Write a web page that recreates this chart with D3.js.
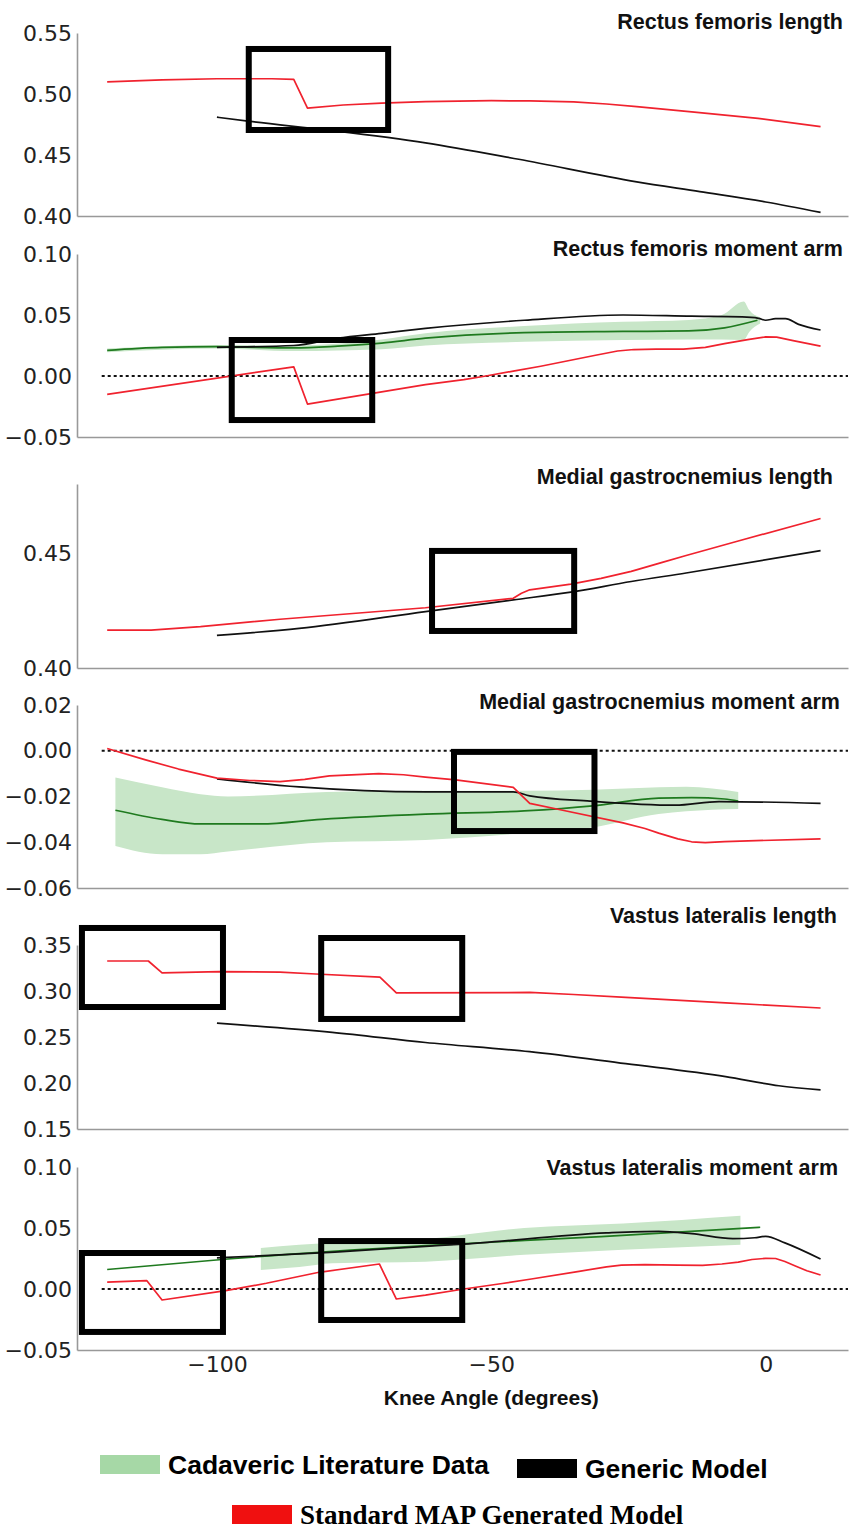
<!DOCTYPE html>
<html>
<head>
<meta charset="utf-8">
<script src="https://cdn.jsdelivr.net/npm/d3@7"></script>
<style>
  body { margin: 0; background: #fff; }
  .tick text { font-family: "DejaVu Sans", sans-serif; fill: #222; }
  .title { font-family: "Liberation Sans", Arial, sans-serif; font-weight: bold; fill: #111; }
</style>
</head>
<body>
<svg width="850" height="1529"></svg>
<script>
// knee angle ticks (degrees)
const kneeTicks = [-100, -50, 0];

// Rectus femoris length  [angle, value]
const rfLenMAP = [[-120,0.510],[-110,0.5115],[-100,0.5125],[-90,0.5125],[-86,0.512],[-83.5,0.4885],[-77,0.491],[-70,0.4925],[-62,0.4938],[-50,0.4945],[-43,0.4943],[-35,0.4935],[-29,0.4918],[-23.5,0.4896],[-13,0.4851],[-1.4,0.480],[10,0.4732]];
const rfLenGeneric = [[-100,0.481],[-94,0.4775],[-80,0.4705],[-62,0.460],[-45,0.4465],[-23.5,0.428],[-12,0.420],[0,0.4115],[10,0.403]];

// Rectus femoris moment arm
const rfArmMAP = [[-120,-0.015],[-86,0.0075],[-83.5,-0.023],[-62,-0.007],[-55,-0.003],[-51,0],[-46,0.004],[-41,0.008],[-36,0.0125],[-31,0.017],[-27,0.0205],[-24,0.0217],[-20,0.022],[-15,0.022],[-11,0.0235],[-7.5,0.0265],[-3,0.030],[0,0.032],[2,0.0318],[5,0.029],[10,0.0245]];
const rfArmGeneric = [[-100,0.0235],[-86,0.025],[-78,0.031],[-70,0.035],[-62,0.039],[-44,0.0457],[-26,0.050],[-13.5,0.049],[-4.3,0.0484],[-1.3,0.0473],[0,0.0457],[1.8,0.047],[3.6,0.047],[6,0.0423],[10,0.0377]];
const rfArmLit = [[-120,0.021],[-110,0.0235],[-100,0.024],[-86,0.023],[-78,0.0245],[-70,0.027],[-62,0.031],[-44,0.0355],[-26,0.0365],[-14,0.037],[-7.5,0.0395],[-1.5,0.0457]];
const rfArmLitBand = [[-120,0.0195,0.0225],[-100,0.0225,0.0255],[-86,0.0205,0.025],[-70,0.022,0.030],[-62,0.025,0.035],[-44,0.028,0.041],[-26,0.0295,0.0445],[-14,0.030,0.046],[-8,0.030,0.050],[-4,0.0295,0.061],[-3,0.036,0.054],[-1,0.043,0.048]];

// Medial gastrocnemius length
const mgLenMAP = [[-120,0.4165],[-112,0.4165],[-103,0.418],[-88.5,0.4212],[-62,0.4262],[-46,0.4303],[-44.5,0.4325],[-43,0.434],[-35.5,0.4365],[-30,0.439],[-24.5,0.442],[-19,0.4458],[-14.5,0.4489],[-5,0.4552],[10,0.465]];
const mgLenGeneric = [[-100,0.4142],[-85,0.4172],[-62,0.4245],[-46,0.4296],[-35.5,0.433],[-24.5,0.4376],[-14.5,0.4413],[10,0.451]];

// Medial gastrocnemius moment arm
const mgArmMAP = [[-120,0.001],[-113,-0.004],[-107,-0.008],[-100,-0.012],[-94,-0.013],[-88.5,-0.0135],[-84,-0.0125],[-79.5,-0.011],[-70.5,-0.010],[-66,-0.0105],[-62,-0.0115],[-56.5,-0.0127],[-46,-0.016],[-43,-0.023],[-37,-0.026],[-26,-0.0315],[-22,-0.034],[-19.5,-0.036],[-16,-0.0385],[-13.5,-0.0398],[-11,-0.0402],[-7.5,-0.0397],[10,-0.0385]];
const mgArmGeneric = [[-100,-0.0123],[-85,-0.0158],[-62,-0.018],[-46,-0.018],[-43,-0.0197],[-32,-0.022],[-16.5,-0.0238],[-8.5,-0.0222],[10,-0.023]];
const mgArmLit = [[-118.5,-0.026],[-110,-0.030],[-103,-0.032],[-92,-0.032],[-81,-0.030],[-62,-0.0277],[-44,-0.0263],[-31.5,-0.0241],[-19.5,-0.0207],[-13.5,-0.0205],[-7.5,-0.0211],[-5,-0.022]];
const mgArmLitBand = [[-118.5,-0.0416,-0.0117],[-110,-0.0452,-0.016],[-103,-0.0452,-0.019],[-98,-0.044,-0.020],[-80,-0.040,-0.018],[-62,-0.039,-0.0175],[-44,-0.036,-0.0175],[-31.5,-0.0335,-0.017],[-19.5,-0.0277,-0.016],[-14.5,-0.0265,-0.0157],[-5,-0.0255,-0.018]];

// Vastus lateralis length
const vlLenMAP = [[-120,0.3326],[-112.5,0.3326],[-110,0.3196],[-99.5,0.321],[-88.5,0.3205],[-82,0.3185],[-70.3,0.315],[-67.3,0.298],[-43,0.2984],[-35,0.2962],[-25.5,0.293],[-7.3,0.287],[10,0.2815]];
const vlLenGeneric = [[-100,0.265],[-79,0.255],[-62,0.244],[-43,0.234],[-25.5,0.221],[-7.3,0.207],[2.4,0.197],[10,0.1925]];

// Vastus lateralis moment arm
const vlArmMAP = [[-120,0.0057],[-112.8,0.0069],[-110,-0.009],[-98.4,-0.0014],[-91,0.0047],[-81.4,0.0137],[-70.4,0.0205],[-67.3,-0.0082],[-62,-0.005],[-55,0],[-48,0.0045],[-42.7,0.0082],[-34,0.0145],[-29,0.0182],[-26.3,0.0195],[-22,0.0199],[-16,0.0196],[-11.5,0.0193],[-8,0.0205],[-5,0.022],[-2.5,0.0242],[0,0.0251],[1.8,0.025],[3.5,0.0225],[5.3,0.0191],[7.5,0.015],[10,0.0115]];
const vlArmGeneric = [[-100,0.0255],[-78.5,0.0302],[-62,0.035],[-56,0.0365],[-29,0.046],[-19.5,0.0473],[-13.5,0.0454],[-6,0.0413],[-2,0.042],[0,0.0432],[3.5,0.0378],[10,0.0246]];
const vlArmLit = [[-120,0.016],[-98,0.0246],[-62,0.0355],[-30,0.043],[-1,0.0506]];
const vlArmLitBand = [[-92,0.0156,0.0336],[-85,0.018,0.0363],[-79,0.0211,0.0377],[-62,0.0224,0.041],[-44,0.028,0.050],[-26,0.0322,0.0536],[-4.6,0.0363,0.060]];

// highlight boxes [x0, x1, yLow, yHigh] in data units
const rfLenBoxes = [[-94.2,-68.8,0.4705,0.5369]];
const rfArmBoxes = [[-97.3,-71.7,-0.0361,0.0295]];
const mgLenBoxes = [[-60.8,-34.9,0.4161,0.4509]];
const mgArmBoxes = [[-56.8,-31.2,-0.0351,-0.0005]];
const vlLenBoxes = [[-124.6,-98.9,0.2826,0.3685],[-81,-55.3,0.2696,0.3576]];
const vlArmBoxes = [[-124.6,-98.9,-0.0352,0.0295],[-81,-55.3,-0.0254,0.0393]];

const fmt2 = d3.format(".2f");
const hyph = d => fmt2(d);                          // "-0.05"
const uminus = d => fmt2(d).replace("-", "\u2212"); // "−0.02"

const panels = [
  { title: "Rectus femoris length", domain: [0.40, 0.55], ticks: [0.40, 0.45, 0.50, 0.55], fmt: hyph,
    top: 33, bottom: 216, tx: 843, ty: 29, map: rfLenMAP, generic: rfLenGeneric, boxes: rfLenBoxes },
  { title: "Rectus femoris moment arm", domain: [-0.05, 0.10], ticks: [-0.05, 0, 0.05, 0.10], fmt: hyph,
    top: 254, bottom: 437, tx: 843, ty: 256, map: rfArmMAP, generic: rfArmGeneric, lit: rfArmLit, band: rfArmLitBand, zero: true, boxes: rfArmBoxes },
  { title: "Medial gastrocnemius length", domain: [0.40, 0.48], ticks: [0.40, 0.45], fmt: hyph,
    top: 484, bottom: 668, tx: 833, ty: 484, map: mgLenMAP, generic: mgLenGeneric, boxes: mgLenBoxes },
  { title: "Medial gastrocnemius moment arm", domain: [-0.06, 0.02], ticks: [-0.06, -0.04, -0.02, 0, 0.02], fmt: uminus,
    top: 705, bottom: 888, tx: 840, ty: 709, map: mgArmMAP, generic: mgArmGeneric, lit: mgArmLit, band: mgArmLitBand, zero: true, boxes: mgArmBoxes },
  { title: "Vastus lateralis length", domain: [0.15, 0.35], ticks: [0.15, 0.20, 0.25, 0.30, 0.35], fmt: hyph,
    top: 945, bottom: 1129, tx: 837, ty: 923, map: vlLenMAP, generic: vlLenGeneric, boxes: vlLenBoxes },
  { title: "Vastus lateralis moment arm", domain: [-0.05, 0.10], ticks: [-0.05, 0, 0.05, 0.10], fmt: hyph,
    top: 1167, bottom: 1350, tx: 838, ty: 1175, map: vlArmMAP, generic: vlArmGeneric, lit: vlArmLit, band: vlArmLitBand, zero: true, boxes: vlArmBoxes }
];

const colRed = "#f0222e", colBlack = "#111", colGreen = "#1f7a1f", colBand = "#c8e6c8";

const svg = d3.select("svg");
const x = d3.scaleLinear().domain([-125.5, 15]).range([77, 848]);

panels.forEach((p, i) => {
  const y = d3.scaleLinear().domain(p.domain).range([p.bottom, p.top]);
  const g = svg.append("g");

  const smooth = d3.line().x(d => x(d[0])).y(d => y(d[1])).curve(d3.curveMonotoneX);
  const sharp = d3.line().x(d => x(d[0])).y(d => y(d[1]));

  if (p.band) {
    g.append("path")
      .datum(p.band)
      .attr("fill", colBand)
      .attr("d", d3.area().x(d => x(d[0])).y0(d => y(d[1])).y1(d => y(d[2])).curve(d3.curveMonotoneX));
  }
  if (p.zero) {
    g.append("line")
      .attr("x1", x(-121)).attr("x2", x(15))
      .attr("y1", y(0)).attr("y2", y(0))
      .attr("stroke", "#111").attr("stroke-width", 2)
      .attr("stroke-dasharray", "3,3");
  }
  if (p.lit) {
    g.append("path").datum(p.lit).attr("fill", "none")
      .attr("stroke", colGreen).attr("stroke-width", 1.7).attr("d", smooth);
  }
  g.append("path").datum(p.generic).attr("fill", "none")
    .attr("stroke", colBlack).attr("stroke-width", 1.7).attr("d", smooth);
  g.append("path").datum(p.map).attr("fill", "none")
    .attr("stroke", colRed).attr("stroke-width", 1.7)
    .attr("stroke-linejoin", "round").attr("d", sharp);

  // axes: left and bottom spines only
  const ya = g.append("g")
    .attr("transform", "translate(" + x.range()[0] + ",0)")
    .call(d3.axisLeft(y).tickValues(p.ticks).tickFormat(p.fmt).tickSize(0).tickPadding(5));
  ya.selectAll("text").style("font-size", "22px");
  ya.select(".domain").attr("stroke", "#999").attr("stroke-width", 1.6);

  const xa = g.append("g")
    .attr("transform", "translate(0," + p.bottom + ")")
    .call(d3.axisBottom(x).tickValues(i === panels.length - 1 ? kneeTicks : [])
      .tickFormat(d => d3.format("d")(d).replace("-", "\u2212")).tickSize(0).tickPadding(6));
  xa.selectAll("text").style("font-size", "22px");
  xa.select(".domain").attr("stroke", "#999").attr("stroke-width", 1.6);

  // highlight boxes
  g.selectAll("rect.box").data(p.boxes).enter().append("rect")
    .attr("class", "box")
    .attr("x", d => x(d[0]))
    .attr("y", d => y(d[3]))
    .attr("width", d => x(d[1]) - x(d[0]))
    .attr("height", d => y(d[2]) - y(d[3]))
    .attr("fill", "none").attr("stroke", "#000").attr("stroke-width", 6);

  g.append("text").attr("class", "title")
    .attr("x", p.tx).attr("y", p.ty)
    .attr("text-anchor", "end")
    .style("font-size", "21.5px")
    .text(p.title);
});

svg.append("text").attr("class", "title")
  .attr("x", x(-50)).attr("y", 1405)
  .attr("text-anchor", "middle")
  .style("font-size", "21px")
  .text("Knee Angle (degrees)");

// legend
const legend = [
  { label: "Cadaveric Literature Data", color: "#a6d8a6", x: 100, y: 1455, size: 26.5, font: "Liberation Sans, Arial, sans-serif" },
  { label: "Generic Model", color: "#000", x: 517, y: 1459, size: 26.5, font: "Liberation Sans, Arial, sans-serif" },
  { label: "Standard MAP Generated Model", color: "#f01010", x: 232, y: 1505, size: 27, font: "Liberation Serif, 'Times New Roman', serif" }
];
const lg = svg.append("g").selectAll("g").data(legend).enter().append("g");
lg.append("rect")
  .attr("x", d => d.x).attr("y", d => d.y)
  .attr("width", 60).attr("height", 19)
  .attr("fill", d => d.color);
lg.append("text")
  .attr("x", d => d.x + 68).attr("y", d => d.y + 19)
  .style("font-family", d => d.font)
  .style("font-weight", "bold")
  .style("font-size", d => d.size + "px")
  .attr("fill", "#000")
  .text(d => d.label);
</script>
</body>
</html>
